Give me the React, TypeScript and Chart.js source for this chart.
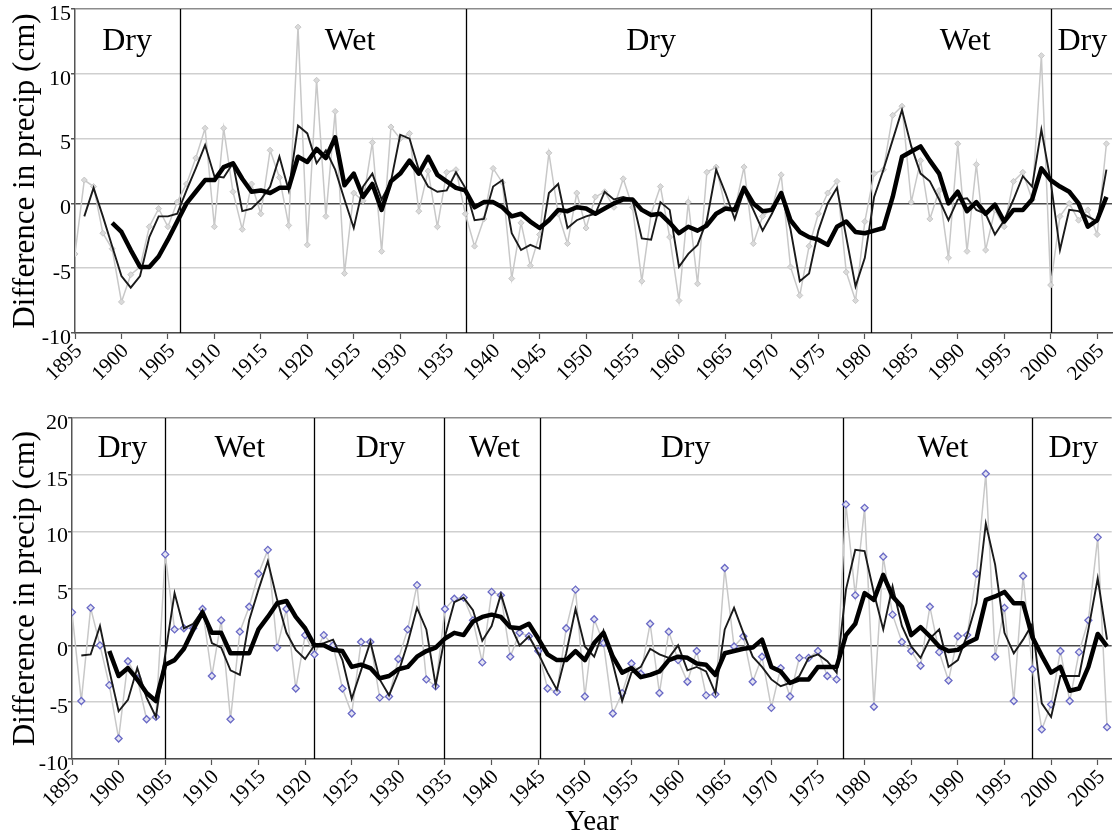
import { useEffect, useRef } from "react";
import { Chart, registerables } from "chart.js";

Chart.register(...registerables);

// Years 1895–2006, one value per year in every series below.
const YEARS: number[] = Array.from({ length: 112 }, (_, i) => 1895 + i);
const TICK_YEARS = [
  1895, 1900, 1905, 1910, 1915, 1920, 1925, 1930, 1935, 1940, 1945, 1950, 1955,
  1960, 1965, 1970, 1975, 1980, 1985, 1990, 1995, 2000, 2005,
];

// Upper panel: annual difference, short running mean, long running mean (cm)
const TOP_ANNUAL = [
  -3.9, 1.8, 1.3, -2.3, -3.5,
  -7.6, -5.5, -4.9, -1.8, -0.4, -1.8, 0.1, 1.5, 3.5, 5.8,
  -1.8, 5.8, 0.9, -2.0, 1.5, -0.8, 4.1, 2.0, -1.7, 13.6,
  -3.2, 9.5, -1.0, 7.1, -5.4, 0.8, 0.2, 4.7, -3.7, 5.9,
  5.0, 5.4, -0.6, 2.5, -1.8, 2.4, 2.6, -0.8, -3.3, -1.2,
  2.7, 1.6, -5.8, -1.5, -4.8, -2.4, 3.9, -0.8, -3.1, 0.8,
  -1.9, 0.5, 0.9, -0.3, 1.9, -0.3, -6.0, -0.8, 1.3, -2.6,
  -7.5, 0.1, -6.2, 2.4, 2.8, -0.3, -0.5, 2.8, -3.1, -1.0,
  -0.4, 2.2, -4.9, -7.1, -3.3, -0.8, 0.8, 1.7, -5.3, -7.5,
  -1.4, 2.3, 2.6, 6.8, 7.5, 0.1, 3.3, -1.2, 1.0, -4.2,
  4.6, -3.7, 3.0, -3.6, -0.5, -1.8, 1.7, 2.4, 0.3, 11.4,
  -6.3, -1.0, 0.0, -1.3, -0.5, -2.4, 4.6,
];
const TOP_SHORT = [
  null, -1.0, 1.2, -1.0, -3.3,
  -5.6, -6.5, -5.6, -2.6, -1.0, -1.0, -0.8, 1.0, 2.7, 4.5,
  2.1, 2.0, 3.1, -0.6, -0.4, 0.3, 1.3, 3.6, 1.0, 6.0,
  5.4, 3.1, 4.1, 2.6, 0.3, -1.9, 1.3, 2.3, 0.3, 1.7,
  5.3, 5.0, 2.6, 1.3, 0.9, 1.0, 2.4, 1.2, -1.3, -1.2,
  1.3, 1.8, -2.3, -3.6, -3.2, -3.5, 0.8, 1.5, -1.9, -1.3,
  -1.0, -0.8, 0.9, 0.3, 0.5, 0.3, -2.7, -2.8, 0.1, -0.5,
  -4.9, -3.9, -3.2, -1.3, 2.6, 0.8, -1.2, 1.0, -0.5, -2.1,
  -0.8, 0.8, -2.0, -6.0, -5.4, -2.1, 0.0, 1.2, -2.6, -6.4,
  -4.2, 0.5, 2.6, 4.9, 7.2, 4.4, 2.3, 1.7, 0.3, -1.3,
  0.3, 0.4, -0.5, -0.8, -2.4, -1.3, 0.3, 2.1, 1.3, 5.7,
  1.7, -3.6, -0.5, -0.6, -1.0, -1.4, 2.6,
];
const TOP_LONG = [
  null, null, null, null, -1.5,
  -2.2, -3.6, -4.9, -4.9, -4.1, -2.8, -1.4, 0.0, 0.9, 1.8,
  1.8, 2.8, 3.1, 1.9, 0.9, 1.0, 0.8, 1.2, 1.2, 3.6,
  3.2, 4.2, 3.5, 5.1, 1.4, 2.3, 0.5, 1.5, -0.5, 1.7,
  2.3, 3.3, 2.3, 3.6, 2.2, 1.7, 1.2, 1.0, -0.3, 0.1,
  0.1, -0.3, -1.0, -0.8, -1.4, -1.9, -1.3, -0.5, -0.6, -0.3,
  -0.4, -0.8, -0.4, 0.0, 0.3, 0.3, -0.5, -0.9, -0.8, -1.5,
  -2.3, -1.8, -2.1, -1.7, -0.8, -0.4, -0.5, 1.2, 0.0, -0.6,
  -0.5, 0.8, -1.3, -2.2, -2.6, -2.8, -3.2, -1.8, -1.4, -2.2,
  -2.3, -2.1, -1.9, 0.5, 3.6, 4.0, 4.4, 3.3, 2.3, 0.0,
  0.9, -0.6, 0.1, -0.8, -0.1, -1.4, -0.5, -0.5, 0.3, 2.7,
  1.8, 1.3, 0.9, 0.0, -1.8, -1.3, 0.5,
];

// Lower panel: annual difference, short running mean, long running mean (cm)
const BOTTOM_ANNUAL = [
  2.9, -4.9, 3.3, 0.0, -3.5,
  -8.2, -1.4, -2.9, -6.5, -6.3, 8.0, 1.4, 1.5, 1.5, 3.2,
  -2.7, 2.2, -6.5, 1.2, 3.4, 6.3, 8.4, -0.2, 3.2, -3.8,
  0.9, -0.8, 0.9, 0.0, -3.8, -6.0, 0.3, 0.3, -4.6, -4.5,
  -1.2, 1.4, 5.3, -3.0, -3.6, 3.2, 4.1, 4.2, 2.2, -1.5,
  4.7, 4.4, -1.0, 1.1, 0.8, -0.5, -3.8, -4.1, 1.5, 4.9,
  -4.5, 2.3, 0.2, -6.0, -4.2, -1.6, -2.5, 1.9, -4.2, 1.2,
  -1.3, -3.2, -0.5, -4.4, -4.3, 6.8, -0.1, 0.8, -3.2, -1.0,
  -5.5, -2.0, -4.5, -1.1, -1.1, -0.5, -2.7, -3.0, 12.4, 4.4,
  12.1, -5.4, 7.8, 2.7, 0.3, -0.5, -1.8, 3.4, -0.6, -3.1,
  0.8, 0.9, 6.3, 15.1, -1.0, 3.3, -4.9, 6.1, -2.1, -7.4,
  -5.2, -0.5, -4.9, -0.6, 2.2, 9.5, -7.2,
];
const BOTTOM_SHORT = [
  null, -0.9, -0.8, 1.7, -2.2,
  -5.8, -4.8, -2.0, -4.6, -6.3, -0.8, 4.6, 1.5, 1.9, 3.1,
  0.2, -0.2, -2.2, -2.6, 2.2, 4.9, 7.4, 4.0, 1.1, -0.4,
  -1.2, 0.0, 0.2, 0.5, -1.3, -4.7, -2.2, 0.3, -3.0, -4.4,
  -2.4, 0.2, 3.3, 1.4, -3.5, 0.8, 3.8, 4.2, 3.1, 0.4,
  1.7, 4.5, 1.8, 0.0, 0.8, -0.7, -2.4, -3.9, -0.7, 3.2,
  -0.1, -1.0, 1.3, -1.6, -4.9, -2.4, -1.9, -0.3, -0.8, -1.1,
  0.0, -2.2, -1.9, -2.3, -4.2, 1.4, 3.3, 1.1, -1.0, -1.9,
  -3.0, -3.6, -3.3, -2.7, -1.1, -0.8, -1.4, -2.4, 4.9, 8.4,
  8.3, 4.6, 1.4, 5.2, 1.7, -0.1, -1.1, 0.6, 1.4, -1.9,
  -1.3, 0.9, 3.7, 10.7, 7.1, 1.1, -0.7, 0.5, 1.9, -5.1,
  -6.3, -2.7, -2.7, -2.7, 1.4, 5.9, 0.5,
];
const BOTTOM_LONG = [
  null, null, null, null, -0.5,
  -2.7, -2.0, -3.0, -4.2, -4.9, -1.7, -1.3, -0.3, 1.4, 2.9,
  1.1, 1.1, -0.7, -0.7, -0.7, 1.4, 2.5, 3.7, 3.9, 2.5,
  1.5, 0.0, 0.0, -0.4, -0.5, -1.9, -1.7, -2.0, -2.9, -2.7,
  -2.1, -1.9, -1.0, -0.5, -0.2, 0.6, 1.1, 0.9, 2.1, 2.5,
  2.7, 2.5, 1.6, 1.5, 1.9, 0.6, -0.8, -1.3, -1.3, -0.5,
  -1.3, 0.2, 1.1, -1.0, -2.4, -2.0, -2.8, -2.6, -2.3, -1.3,
  -1.0, -1.1, -1.6, -1.7, -2.6, -0.7, -0.5, -0.3, -0.2, 0.5,
  -1.9, -2.3, -3.3, -3.0, -3.0, -1.9, -1.9, -1.9, 0.9, 1.9,
  4.6, 4.0, 6.2, 4.3, 3.4, 0.9, 1.6, 0.8, -0.1, -0.5,
  -0.4, 0.2, 0.6, 4.0, 4.3, 4.7, 3.7, 3.7, 0.7, -0.9,
  -2.4, -1.9, -4.0, -3.8, -1.9, 1.0, -0.1,
];

// Dry / wet periods: boundary years and where each period name sits
const TOP_BREAKS = [1906.25, 1937.1, 1980.7, 2000.0];
const TOP_PHASES = ["Dry", "Wet", "Dry", "Wet", "Dry"];
const TOP_PHASE_AT = [1900.6, 1924.6, 1957.0, 1990.8, 2003.4];

const BOTTOM_BREAKS = [1905.0, 1920.9, 1934.9, 1945.2, 1977.65, 1997.9];
const BOTTOM_PHASES = ["Dry", "Wet", "Dry", "Wet", "Dry", "Wet", "Dry"];
const BOTTOM_PHASE_AT = [1900.4, 1913.0, 1928.1, 1940.3, 1960.8, 1988.4, 2002.4];

const SERIF = "'Liberation Serif', 'Times New Roman', serif";

type PhaseOptions = {
  breaks: number[];
  names: string[];
  at: number[];
  baseline: number;
};

const phasePlugin = {
  id: "phases",
  beforeDatasetsDraw(chart: any, _args: any, opts: PhaseOptions) {
    const { ctx, chartArea } = chart;
    const xs = chart.scales.x;
    ctx.save();
    ctx.beginPath();
    ctx.rect(chartArea.left, chartArea.top, chartArea.right - chartArea.left, chartArea.bottom - chartArea.top);
    ctx.clip();
    ctx.strokeStyle = "#000";
    ctx.lineWidth = 1.3;
    for (const b of opts.breaks) {
      const x = Math.round(xs.getPixelForValue(b)) + 0.5;
      ctx.beginPath();
      ctx.moveTo(x, chartArea.top);
      ctx.lineTo(x, chartArea.bottom);
      ctx.stroke();
    }
    ctx.fillStyle = "#000";
    ctx.font = `32px ${SERIF}`;
    ctx.textAlign = "center";
    ctx.textBaseline = "alphabetic";
    opts.names.forEach((name, i) => {
      ctx.fillText(name, xs.getPixelForValue(opts.at[i]), chartArea.top + opts.baseline);
    });
    ctx.restore();
  },
};

const toPoints = (values: (number | null)[]) =>
  YEARS.map((year, i) => ({ x: year, y: values[i] })).filter((p) => p.y !== null);

type PanelSpec = {
  annual: (number | null)[];
  short: (number | null)[];
  long: (number | null)[];
  yMax: number;
  xMax: number;
  axisWidth: number;
  padTop: number;
  xAxisHeight: number;
  showYear: boolean;
  marker: { style: string; radius: number; fill: string; edge: string; width: number };
  phases: PhaseOptions;
};

function makeConfig(p: PanelSpec): any {
  return {
    type: "line",
    data: {
      datasets: [
        {
          data: toPoints(p.long),
          borderColor: "#000",
          borderWidth: 4.5,
          borderJoinStyle: "round",
          pointRadius: 0,
          tension: 0,
        },
        {
          data: toPoints(p.short),
          borderColor: "#1a1a1a",
          borderWidth: 1.9,
          pointRadius: 0,
          tension: 0,
        },
        {
          data: toPoints(p.annual),
          borderColor: "#c8c8c8",
          borderWidth: 1.5,
          pointStyle: p.marker.style,
          pointRadius: p.marker.radius,
          pointBackgroundColor: p.marker.fill,
          pointBorderColor: p.marker.edge,
          pointBorderWidth: p.marker.width,
          tension: 0,
        },
      ],
    },
    options: {
      responsive: false,
      animation: false,
      events: [],
      layout: { padding: { top: p.padTop, left: 0, right: 0, bottom: 0 } },
      plugins: {
        legend: { display: false },
        tooltip: { enabled: false },
        phases: p.phases,
      },
      scales: {
        x: {
          type: "linear",
          min: 1895,
          max: p.xMax,
          afterBuildTicks: (scale: any) => {
            scale.ticks = TICK_YEARS.map((v) => ({ value: v }));
          },
          afterFit: (scale: any) => {
            scale.height = p.xAxisHeight;
            scale.paddingLeft = 0;
            scale.paddingRight = 0;
          },
          ticks: {
            autoSkip: false,
            includeBounds: false,
            minRotation: 45,
            maxRotation: 45,
            padding: 0,
            labelOffset: 4,
            color: "#000",
            font: { family: SERIF, size: 21 },
            callback: (v: number) => String(v),
          },
          grid: {
            drawOnChartArea: false,
            drawTicks: true,
            tickLength: 6,
            tickColor: "#555",
            tickWidth: 1.2,
          },
          border: { display: true, color: "#4a4a4a", width: 1.5 },
          title: {
            display: p.showYear,
            text: "Year",
            color: "#000",
            font: { family: SERIF, size: 29 },
            padding: { top: 0, bottom: -4 },
          },
        },
        y: {
          type: "linear",
          min: -10,
          max: p.yMax,
          afterFit: (scale: any) => {
            scale.width = p.axisWidth;
            scale.paddingTop = 0;
            scale.paddingBottom = 0;
          },
          ticks: {
            stepSize: 5,
            padding: 0,
            labelOffset: 5,
            color: "#000",
            font: { family: SERIF, size: 22 },
            callback: (v: number) => String(v),
          },
          grid: {
            color: (c: any) =>
              c.tick && c.tick.value === 0 ? "#4a4a4a" : c.tick && c.tick.value === p.yMax ? "#8c8c8c" : "#cfcfcf",
            lineWidth: 1.5,
            drawTicks: true,
            tickLength: 4,
            tickColor: "#555",
          },
          border: { display: true, color: "#555", width: 1.5 },
          title: {
            display: true,
            text: "Difference in precip (cm)",
            color: "#000",
            font: { family: SERIF, size: 31 },
            padding: { top: 7, bottom: 0 },
          },
        },
      },
    },
    plugins: [phasePlugin],
  };
}

const TOP_PANEL: PanelSpec = {
  annual: TOP_ANNUAL,
  short: TOP_SHORT,
  long: TOP_LONG,
  yMax: 15,
  xMax: 2006.6,
  axisWidth: 75,
  padTop: 9,
  xAxisHeight: 47,
  showYear: false,
  marker: { style: "rectRot", radius: 3, fill: "#dadada", edge: "#c6c6c6", width: 1 },
  phases: { breaks: TOP_BREAKS, names: TOP_PHASES, at: TOP_PHASE_AT, baseline: 41 },
};

const BOTTOM_PANEL: PanelSpec = {
  annual: BOTTOM_ANNUAL,
  short: BOTTOM_SHORT,
  long: BOTTOM_LONG,
  yMax: 20,
  xMax: 2006.5,
  axisWidth: 72,
  padTop: 38,
  xAxisHeight: 77,
  showYear: true,
  marker: { style: "rectRot", radius: 3.5, fill: "#e4e4f2", edge: "#6a6ac6", width: 1.3 },
  phases: { breaks: BOTTOM_BREAKS, names: BOTTOM_PHASES, at: BOTTOM_PHASE_AT, baseline: 39 },
};

function Panel({ spec, width, height }: { spec: PanelSpec; width: number; height: number }) {
  const ref = useRef<HTMLCanvasElement | null>(null);
  useEffect(() => {
    if (!ref.current) return;
    const chart = new Chart(ref.current, makeConfig(spec));
    return () => chart.destroy();
  }, [spec]);
  return <canvas ref={ref} width={width} height={height} style={{ display: "block", width, height }} />;
}

export default function App() {
  return (
    <div
      style={{
        position: "absolute",
        left: 0,
        top: 0,
        width: 1117,
        height: 836,
        overflow: "hidden",
        background: "#fff",
      }}
    >
      <Panel spec={TOP_PANEL} width={1117} height={380} />
      <Panel spec={BOTTOM_PANEL} width={1117} height={456} />
    </div>
  );
}
